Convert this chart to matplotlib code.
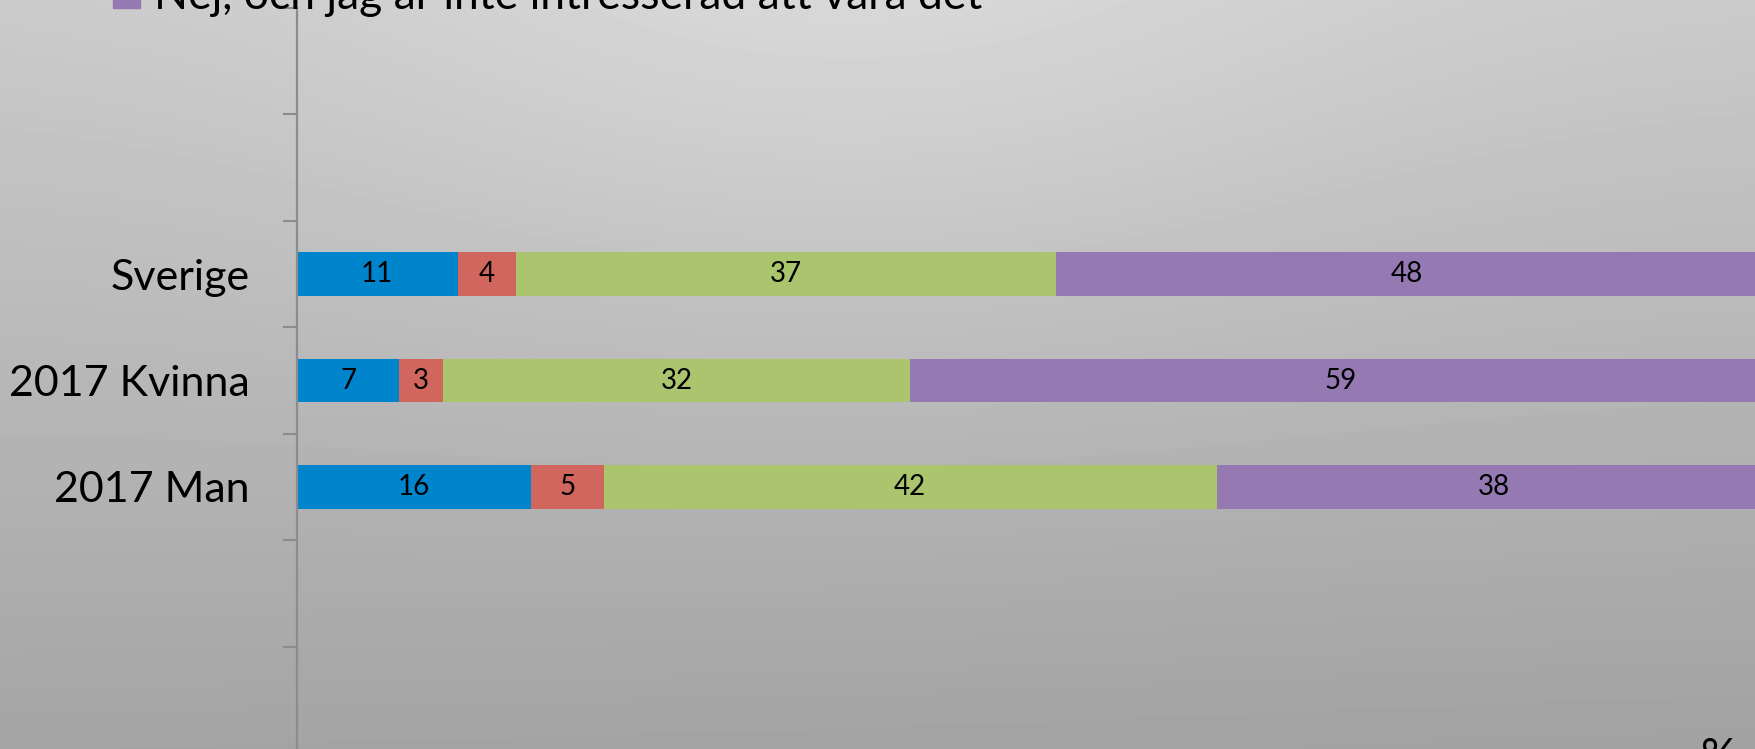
import numpy as np
import matplotlib
matplotlib.use("Agg")
import matplotlib.pyplot as plt
from matplotlib.patches import Rectangle

plt.rcParams["font.family"] = ["Lato", "DejaVu Sans"]

# andelar i procent per grupp
grupper = ["Sverige", "2017 Kvinna", "2017 Man"]
serie_bla = [11, 7, 16]
serie_rod = [4, 3, 5]
serie_gron = [37, 32, 42]
serie_lila = [48, 59, 38]
serier = [serie_bla, serie_rod, serie_gron, serie_lila]
farger = ["#0085CD", "#D1665F", "#ABC46E", "#9479B2"]
legend_text = "Nej, och jag är inte intresserad att vara det"

W, H = 1756, 749
fig = plt.figure(figsize=(W / 100, H / 100), dpi=100)

# grå gradientbakgrund
yy, xx = np.mgrid[0:H, 0:W]
bas = 0.79 - 0.145 * (yy / H) - 0.012 * (xx / W) * (yy / H)
ljus = 0.055 * np.exp(-((xx - 850) ** 2 / (2 * 380.0 ** 2) + yy ** 2 / (2 * 260.0 ** 2)))
bg = fig.add_axes([0, 0, 1, 1], zorder=-1)
bg.imshow(bas + ljus, cmap="gray", vmin=0, vmax=1, aspect="auto",
          extent=[0, W, H, 0], interpolation="bilinear")
bg.axis("off")

ax = fig.add_axes([297 / W, 1 - 753 / H, 1460 / W, 745 / H])
ax.set_facecolor("none")

y = np.arange(len(grupper))
vanster = np.zeros(len(grupper))
for varden, farg in zip(serier, farger):
    varden = np.array(varden, dtype=float)
    ax.barh(y, varden, left=vanster, height=0.41, color=farg, zorder=2)
    for yi, v, l in zip(y, varden, vanster):
        ax.text(l + v / 2, yi, f"{v:.0f}", ha="center", va="center",
                fontsize=20, color="black", zorder=3)
    vanster += varden

ax.set_xlim(0, 100)
ax.set_ylim(4.5, -2.5)
ax.set_yticks(y)
ax.set_yticklabels(grupper, fontsize=31)
ax.set_yticks(np.arange(-2.5, 4.6, 1.0), minor=True)
ax.tick_params(axis="y", which="major", length=0, pad=34)
ax.tick_params(axis="y", which="minor", length=10, width=1.5, color="#8C8C8C")
ax.set_xticks([])
for side in ["top", "right", "bottom"]:
    ax.spines[side].set_visible(False)
ax.spines["left"].set_color("#8C8C8C")
ax.spines["left"].set_linewidth(1.6)

# sista raden i förklaringen
fig.patches.append(Rectangle((113 / W, 1 - 8 / H), 27 / W, 27 / H,
                             transform=fig.transFigure, color=farger[3]))
fig.text(154 / W, 1 - 9 / H, legend_text, fontsize=32, va="baseline", ha="left")

fig.text(1719 / W, 1 - 737 / H, "%", fontsize=32, ha="center", va="top")

fig.savefig("out.png", dpi=100)
